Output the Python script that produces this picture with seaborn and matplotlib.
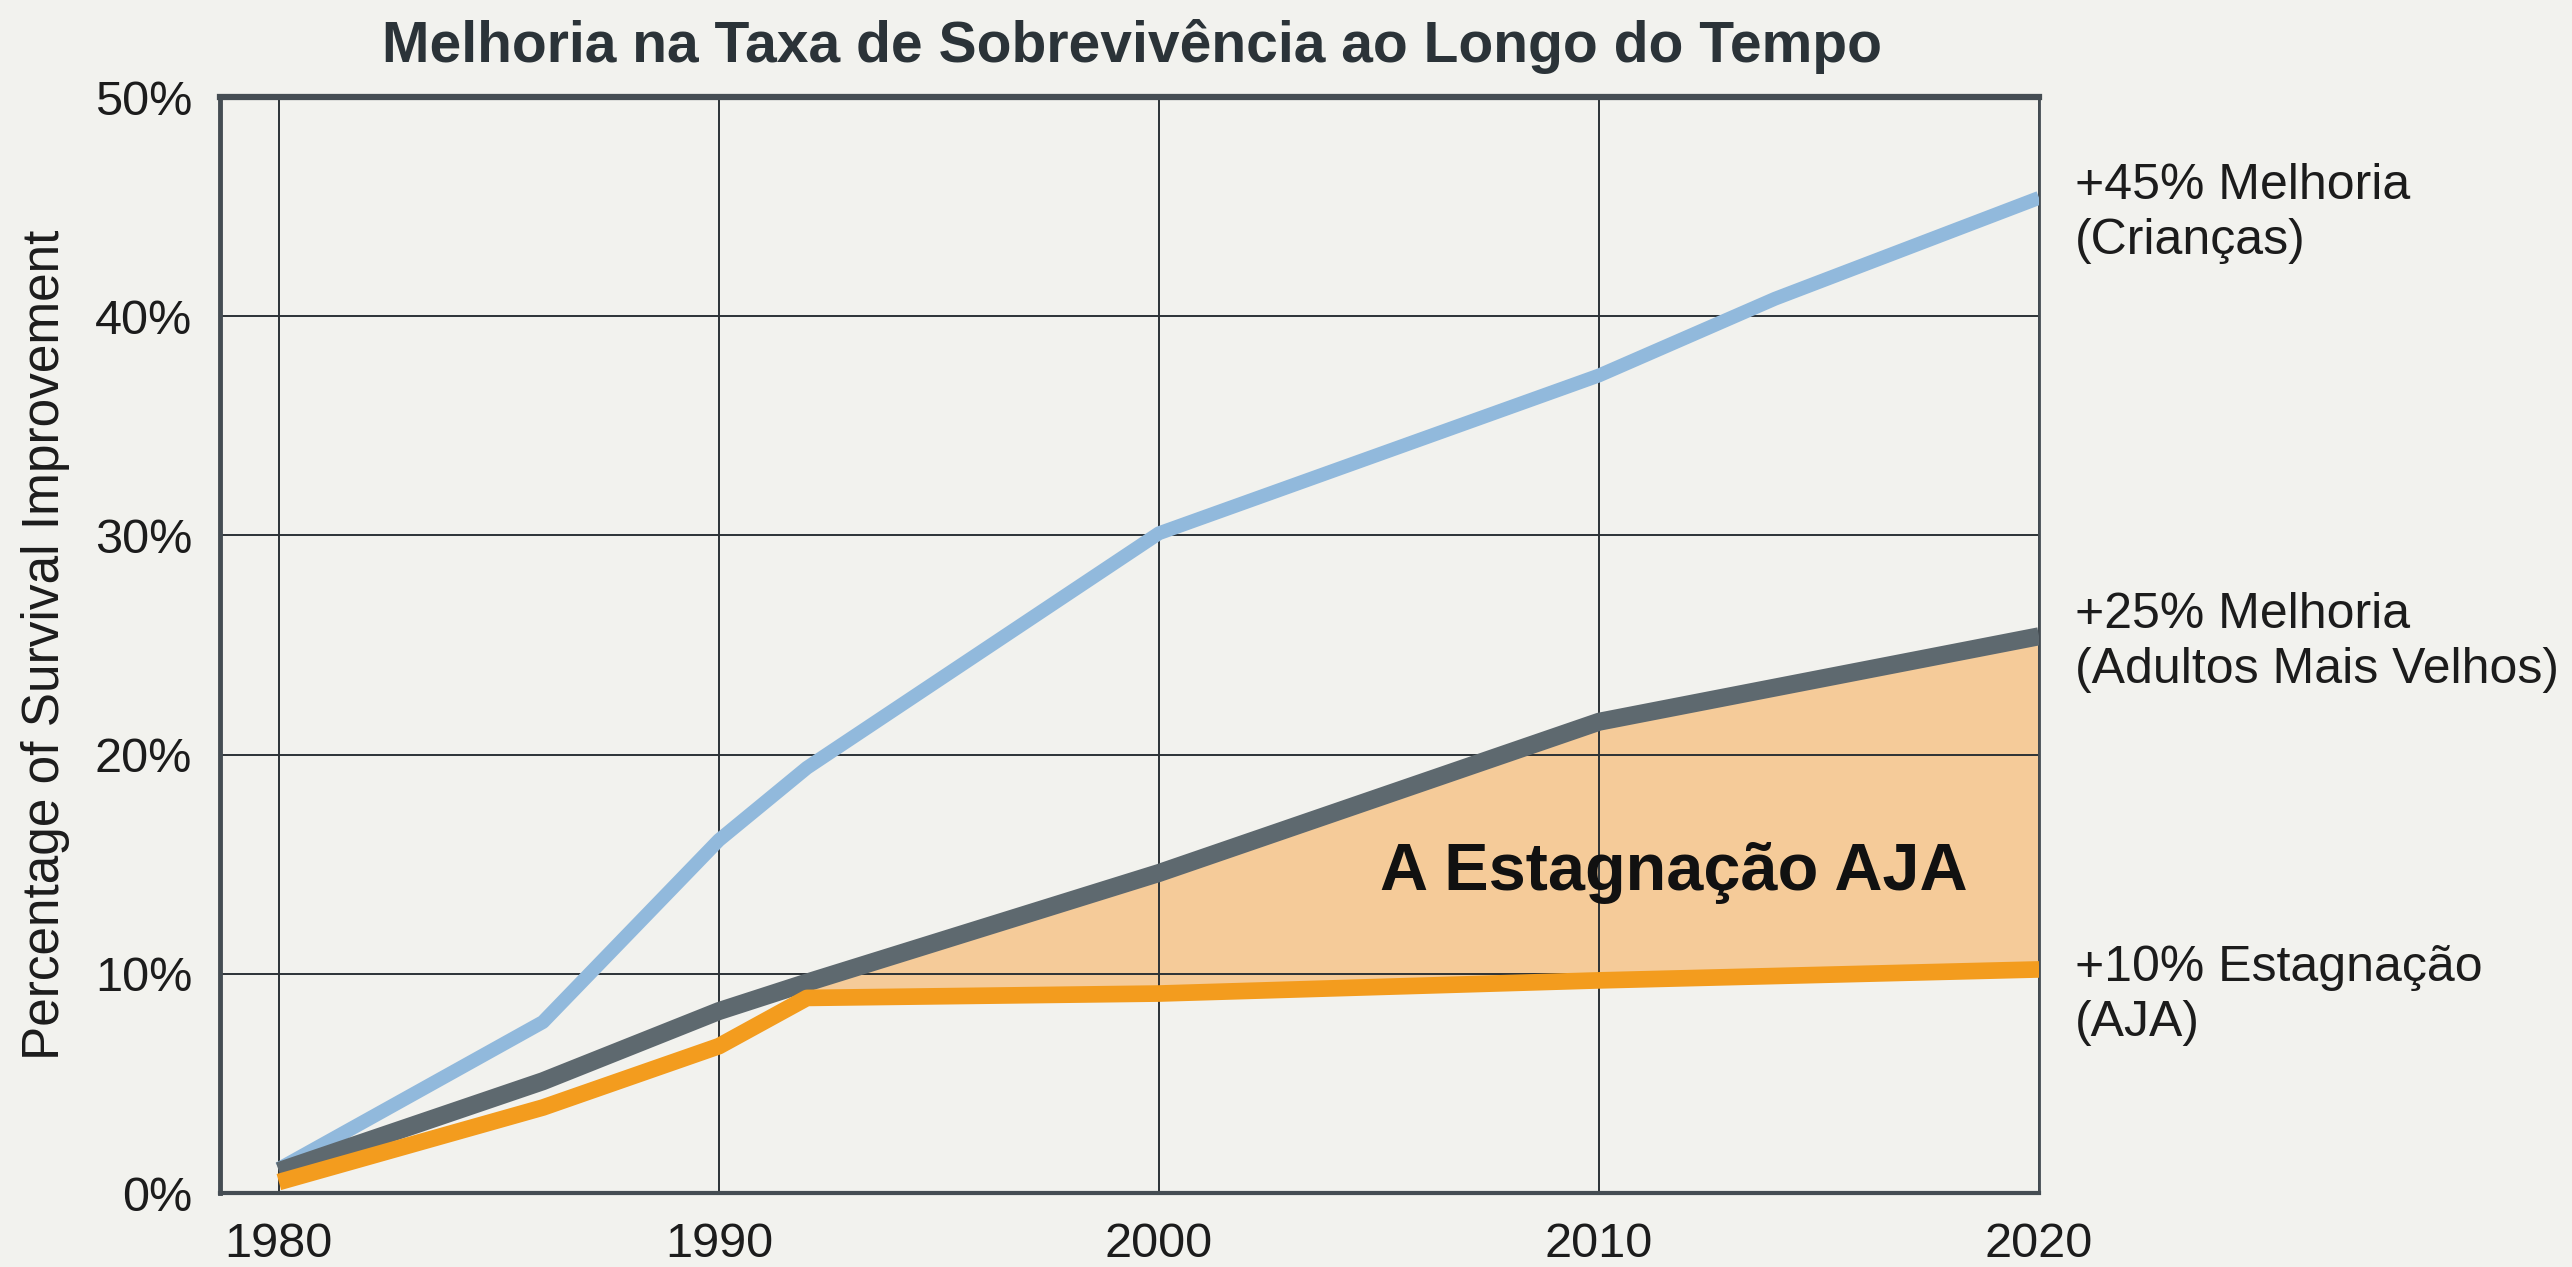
import matplotlib

matplotlib.use('Agg')
import matplotlib.pyplot as plt
import matplotlib.ticker as mticker
import seaborn as sns
import numpy as np
import pandas as pd

# ── data ──────────────────────────────────────────────────
years_kids = [1980, 1986, 1990, 1992, 2000, 2010, 2014, 2020]
vals_kids = [1.1, 7.8, 16.1, 19.4, 30.1, 37.3, 40.8, 45.4]

years_older = [1980, 1986, 1990, 1992, 2000, 2010, 2020]
vals_older = [1.0, 5.1, 8.3, 9.6, 14.6, 21.5, 25.4]

years_aja = [1980, 1986, 1990, 1992, 2000, 2010, 2020]
vals_aja = [0.5, 3.9, 6.7, 8.9, 9.1, 9.7, 10.2]

end_labels = ['+45% Melhoria\n(Crianças)',
              '+25% Melhoria\n(Adultos Mais Velhos)',
              '+10% Estagnação\n(AJA)']
gap_label = 'A Estagnação AJA'
title = 'Melhoria na Taxa de Sobrevivência ao Longo do Tempo'
ylabel = 'Percentage of Survival Improvement'
year_ticks = [1980, 1990, 2000, 2010, 2020]
pct_ticks = [0, 10, 20, 30, 40, 50]

# ── style ─────────────────────────────────────────────────
BG = '#f2f2ee'
BLUE, GREY, ORANGE, FILL = '#91b9dc', '#5e696f', '#f39c1e', '#f6c58a'
INK = '#1c1c1c'

sns.set_theme(style='white')
plt.rcParams['font.family'] = ['Liberation Sans', 'DejaVu Sans']

fig = plt.figure(figsize=(25.72, 12.67), dpi=100, facecolor=BG)
ax = fig.add_axes([0.0855, 0.0584, 0.7073, 0.865])
ax.set_facecolor(BG)

df_kids = pd.DataFrame({'year': years_kids, 'pct': vals_kids})
df_older = pd.DataFrame({'year': years_older, 'pct': vals_older})
df_aja = pd.DataFrame({'year': years_aja, 'pct': vals_aja})

# gap shading between older adults and AJA from 1992 on
fx = np.array([y for y in years_aja if y >= 1992])
f_low = np.interp(fx, years_aja, vals_aja)
f_high = np.interp(fx, years_older, vals_older)
ax.fill_between(fx, f_low, f_high, color=FILL, alpha=0.85, lw=0, zorder=1)

line_kw = dict(solid_capstyle='butt', solid_joinstyle='round')
sns.lineplot(data=df_kids, x='year', y='pct', ax=ax, color=BLUE, lw=10, zorder=3, **line_kw)
sns.lineplot(data=df_older, x='year', y='pct', ax=ax, color=GREY, lw=13, zorder=3, **line_kw)
sns.lineplot(data=df_aja, x='year', y='pct', ax=ax, color=ORANGE, lw=12, zorder=4, **line_kw)

ax.set_xlim(1978.66, 2020)
ax.set_ylim(0, 50)
ax.set_xticks(year_ticks)
ax.set_yticks(pct_ticks)
ax.yaxis.set_major_formatter(mticker.FuncFormatter(lambda v, p: f'{v:.0f}%'))
ax.tick_params(axis='both', length=0, labelsize=35, colors=INK)
ax.tick_params(axis='x', pad=21)
ax.tick_params(axis='y', pad=20)

ax.set_axisbelow('line')
ax.grid(True, color='#2c3236', lw=1.4)

for side, lw in [('top', 4.5), ('left', 3.5), ('bottom', 3), ('right', 2)]:
    ax.spines[side].set_visible(True)
    ax.spines[side].set_color('#454d53')
    ax.spines[side].set_linewidth(lw)

ax.set_xlabel('')
ax.set_ylabel(ylabel, fontsize=37, color=INK, va='center')
ax.yaxis.set_label_coords(-0.096, 0.5)

# end-of-line labels
for txt, yv in zip(end_labels, [44.7, 25.1, 9.0]):
    ax.text(1.0198, yv, txt, transform=ax.get_yaxis_transform(), fontsize=36,
            color=INK, ha='left', va='center', linespacing=1.25)

ax.text(2011.7, 14.6, gap_label, fontsize=48, fontweight='bold', color='#111111',
        ha='center', va='center', zorder=5)

fig.text(0.44, 0.963, title, fontsize=41, fontweight='bold', color='#2b3338',
         ha='center', va='center')

plt.savefig('out.png', dpi=100, facecolor=BG)
